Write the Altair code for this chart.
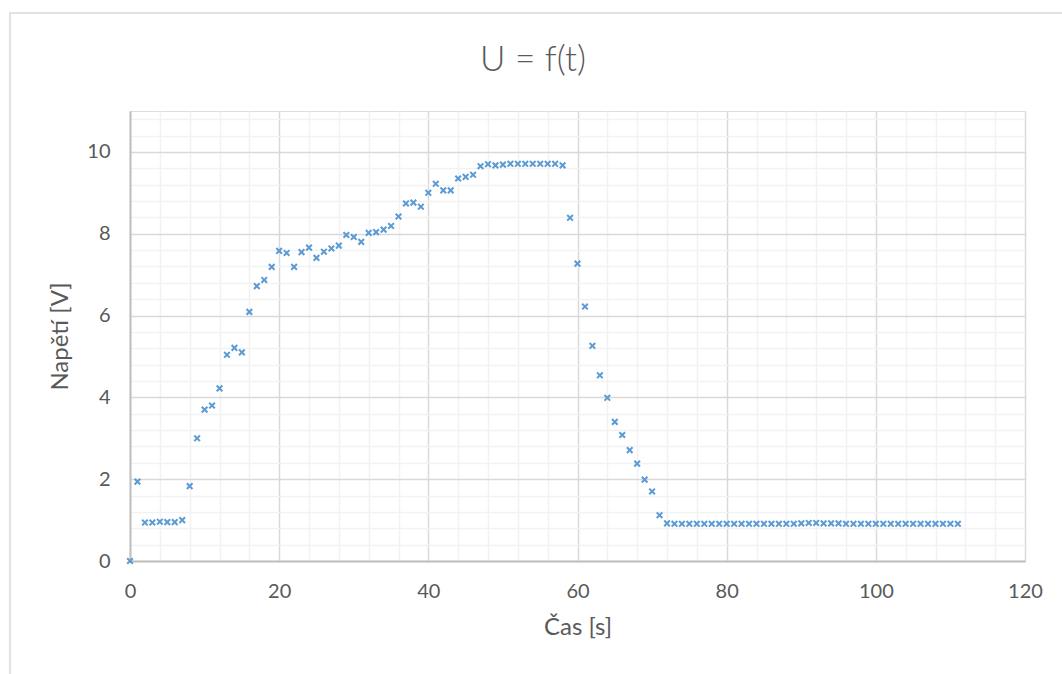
import altair as alt
import pandas as pd

# Measured voltage over time, one sample per second
time_s = list(range(0, 112))
voltage_v = [
    0.00, 1.94, 0.94, 0.94, 0.96, 0.95, 0.95, 1.00, 1.83, 3.00,
    3.70, 3.80, 4.22, 5.04, 5.21, 5.10, 6.09, 6.72, 6.87, 7.19,
    7.58, 7.53, 7.19, 7.55, 7.66, 7.41, 7.56, 7.64, 7.71, 7.97,
    7.92, 7.80, 8.02, 8.04, 8.10, 8.19, 8.42, 8.74, 8.76, 8.66,
    9.00, 9.22, 9.06, 9.06, 9.35, 9.39, 9.44, 9.65, 9.70, 9.67,
    9.69, 9.71, 9.71, 9.71, 9.71, 9.71, 9.71, 9.71, 9.67, 8.39,
    7.27, 6.22, 5.26, 4.54, 3.99, 3.40, 3.08, 2.71, 2.38, 1.99,
    1.70, 1.12, 0.92, 0.91, 0.91, 0.91, 0.91, 0.91, 0.91, 0.91,
    0.91, 0.91, 0.91, 0.91, 0.91, 0.91, 0.91, 0.91, 0.91, 0.91,
    0.92, 0.93, 0.93, 0.92, 0.92, 0.92, 0.91, 0.91, 0.91, 0.91,
    0.91, 0.91, 0.91, 0.91, 0.91, 0.91, 0.91, 0.91, 0.91, 0.91,
    0.91, 0.91,
]

# Grid positions: majors carry labels, minors are faint lines only
x_grid = [0, 4, 8, 12, 16, 20, 24, 28, 32, 36, 40, 44, 48, 52, 56, 60,
          64, 68, 72, 76, 80, 84, 88, 92, 96, 100, 104, 108, 112, 116, 120]
y_grid = [0.0, 0.4, 0.8, 1.2, 1.6, 2.0, 2.4, 2.8, 3.2, 3.6, 4.0, 4.4, 4.8,
          5.2, 5.6, 6.0, 6.4, 6.8, 7.2, 7.6, 8.0, 8.4, 8.8, 9.2, 9.6, 10.0,
          10.4, 10.8]

chart_title = ["U = f(t)"]

df = pd.DataFrame({"t": time_s, "U": voltage_v})

FONT = "Lato"
TEXT = "#595959"
MAJOR = "#d9d9d9"
MINOR = "#f2f2f2"
AXIS_LINE = "#bfbfbf"

x_major = "datum.value % 20 === 0"
y_major = "abs(datum.value % 2) < 0.001 || abs(datum.value % 2 - 2) < 0.001"

x_axis = alt.Axis(
    values=x_grid,
    labelExpr=f"({x_major}) ? format(datum.value, 'd') : ''",
    labelFlush=False,
    labelOverlap=False,
    gridColor={"condition": {"test": x_major, "value": MAJOR}, "value": MINOR},
    gridWidth=1.5,
    ticks=False,
    domainColor=AXIS_LINE,
    domainWidth=2,
    labelFont=FONT,
    labelFontSize=20,
    labelColor=TEXT,
    labelPadding=20,
    title="Čas [s]",
    titleFont=FONT,
    titleFontSize=24,
    titleFontWeight="normal",
    titleColor=TEXT,
    titlePadding=14,
)

y_axis = alt.Axis(
    values=y_grid,
    labelExpr=f"({y_major}) ? format(round(datum.value), 'd') : ''",
    labelFlush=False,
    labelOverlap=False,
    gridColor={"condition": {"test": y_major, "value": MAJOR}, "value": MINOR},
    gridWidth=1.5,
    ticks=False,
    domainColor=AXIS_LINE,
    domainWidth=2,
    labelFont=FONT,
    labelFontSize=20,
    labelColor=TEXT,
    labelPadding=20,
    title="Napětí [V]",
    titleFont=FONT,
    titleFontSize=24,
    titleFontWeight="normal",
    titleColor=TEXT,
    titlePadding=14,
)

points = alt.Chart(df).mark_point(
    shape="M-1,-1L1,1M-1,1L1,-1",
    filled=False,
    size=32,
    strokeWidth=2,
    color="#5b9bd5",
    opacity=1,
).encode(
    x=alt.X("t:Q", scale=alt.Scale(domain=[0, 120], nice=False, zero=False), axis=x_axis),
    y=alt.Y("U:Q", scale=alt.Scale(domain=[0, 11], nice=False, zero=False), axis=y_axis),
)

# Light outer frame around the whole chart area
frame = alt.Chart(pd.DataFrame({"k": [0]})).mark_rect(
    fill=None, stroke="#d9d9d9", strokeWidth=1.5
).encode(
    x=alt.value(-120), x2=alt.value(960),
    y=alt.value(-98), y2=alt.value(600),
)

# Chart heading, centred on the whole chart
heading = alt.Chart(pd.DataFrame({"label": chart_title})).mark_text(
    font=FONT, fontSize=35, fontWeight=300, color=TEXT,
    align="center", baseline="middle",
).encode(
    text="label:N",
    x=alt.value(403),
    y=alt.value(-51),
)

chart = alt.layer(frame, points, heading).properties(
    width=895,
    height=450,
    autosize=alt.AutoSizeParams(type="none"),
    padding={"left": 130, "top": 111, "right": 37, "bottom": 113},
).configure_view(stroke=None).configure(background="white")

chart.save("out.html", embed_options={"renderer": "svg", "actions": False})
